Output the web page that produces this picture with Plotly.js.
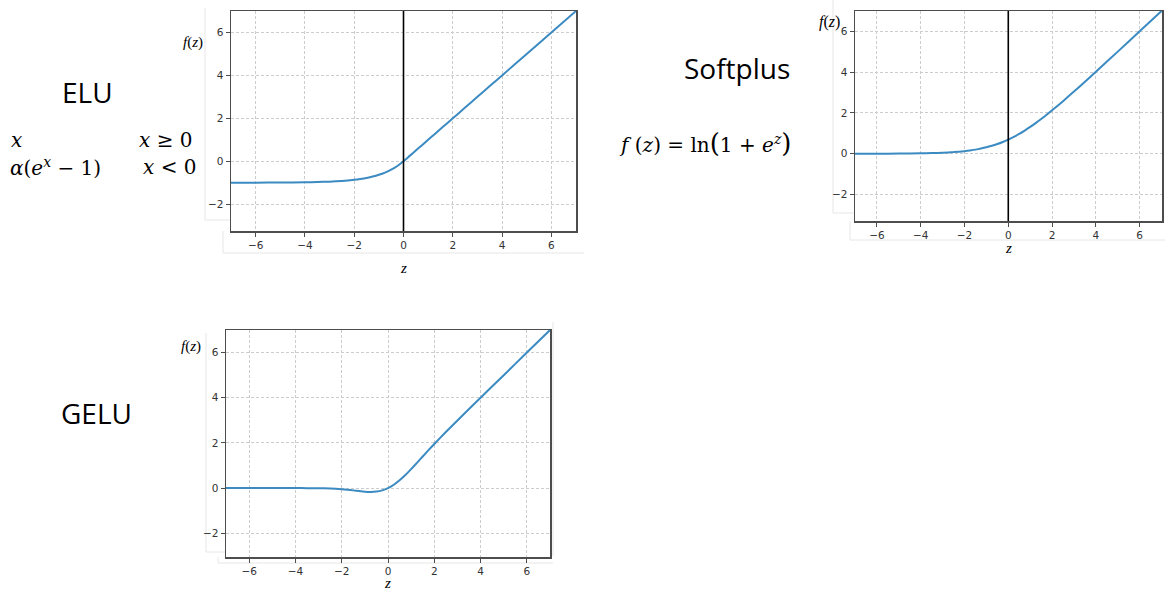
<!DOCTYPE html>
<html>
<head>
<meta charset="utf-8">
<script src="https://cdn.plot.ly/plotly-3.0.1.min.js"></script>
<style>html,body{margin:0;padding:0;background:#fff;}#chart{width:1173px;height:594px;}</style>
</head>
<body>
<div id="chart"></div>
<script>
// ---- data ----
const zValues = [-7,-6,-5,-4,-3.5,-3,-2.5,-2,-1.75,-1.5,-1.25,-1,-0.75,-0.5,-0.25,0,0.25,0.5,0.75,1,1.25,1.5,1.75,2,2.5,3,3.5,4,5,6,7];
const eluValues = [-0.999,-0.998,-0.993,-0.982,-0.970,-0.950,-0.918,-0.865,-0.826,-0.777,-0.714,-0.632,-0.528,-0.394,-0.221,0,0.25,0.5,0.75,1,1.25,1.5,1.75,2,2.5,3,3.5,4,5,6,7];
const softplusValues = [0.001,0.002,0.007,0.018,0.030,0.049,0.079,0.127,0.160,0.201,0.252,0.313,0.387,0.474,0.576,0.693,0.826,0.974,1.137,1.313,1.502,1.701,1.910,2.127,2.579,3.049,3.530,4.018,5.007,6.002,7.001];
const geluValues = [0,0,0,-0.0001,-0.0008,-0.004,-0.016,-0.046,-0.070,-0.100,-0.132,-0.159,-0.170,-0.154,-0.100,0,0.150,0.346,0.580,0.841,1.118,1.400,1.680,1.955,2.485,2.996,3.499,4.000,5,6,7];
const xTickVals = [-6,-4,-2,0,2,4,6];
const yTickVals = [-2,0,2,4,6];
const panelNames = ["ELU","Softplus","GELU"];

// ---- layout helpers ----
const W = 1173, H = 594;
const px = v => v / W;
const py = v => 1 - v / H;
const lineColor = '#3b8bc2';

function axisCommon(domain, range, anchor, ticks){
  return {domain: domain, range: range, anchor: anchor, tickmode:'array', tickvals: ticks,
    showline:true, mirror:true, linecolor:'#4d4d4d', linewidth:1.5,
    ticks:'outside', ticklen:4, tickwidth:1, tickcolor:'#4d4d4d',
    showgrid:true, gridcolor:'#cccccc', griddash:'3px,2px', gridwidth:1, zeroline:false,
    tickfont:{family:'DejaVu Sans', size:10.5, color:'#333'}, fixedrange:true};
}
const axisX = (d, r, a) => axisCommon(d, r, a, xTickVals);
const axisY = (d, r, a) => axisCommon(d, r, a, yTickVals);

const traces = [
  {x: zValues, y: eluValues, xaxis:'x', yaxis:'y', mode:'lines', line:{color:lineColor, width:2, shape:'spline', smoothing:0.5}, name: panelNames[0], hoverinfo:'skip'},
  {x: zValues, y: softplusValues, xaxis:'x2', yaxis:'y2', mode:'lines', line:{color:lineColor, width:2, shape:'spline', smoothing:0.5}, name: panelNames[1], hoverinfo:'skip'},
  {x: zValues, y: geluValues, xaxis:'x3', yaxis:'y3', mode:'lines', line:{color:lineColor, width:2, shape:'spline', smoothing:0.5}, name: panelNames[2], hoverinfo:'skip'}
];

const serif = 'DejaVu Serif';
const lserif = 'Liberation Serif';
const sans = 'Open Sans';
function ann(text, x, y, size, family, opts){
  return Object.assign({text:text, x:px(x), y:py(y), xref:'paper', yref:'paper', showarrow:false,
    xanchor:'center', yanchor:'middle', font:{family:family, size:size, color:'#000'}}, opts||{});
}

const annotations = [
  ann(panelNames[0], 87, 92, 28, sans),
  ann(panelNames[1], 737, 68, 28, sans),
  ann(panelNames[2], 96, 413, 28, sans),
  ann('<i>x</i>', 9, 140, 20, serif, {xanchor:'left'}),
  ann('<i>x</i> ≥ 0', 137, 140, 20, serif, {xanchor:'left'}),
  ann('<i>α</i>(<i>e</i><sup><i>x</i></sup> − 1)', 8, 167, 20, serif, {xanchor:'left'}),
  ann('<i>x</i> &lt; 0', 141, 167, 20, serif, {xanchor:'left'}),
  ann('<i>f</i> (<i>z</i>) = ln<span style="font-size:26px">(</span>1 + <i>e</i><sup><i>z</i></sup><span style="font-size:26px">)</span>', 617, 143, 20, serif, {xanchor:'left'}),
  ann('<i>f</i>(<i>z</i>)', 193, 42, 15, lserif),
  ann('<i>z</i>', 403, 268, 15, lserif),
  ann('<i>f</i>(<i>z</i>)', 829, 22, 16, lserif),
  ann('<i>z</i>', 1008, 248, 15, lserif),
  ann('<i>f</i>(<i>z</i>)', 191, 347, 15, lserif),
  ann('<i>z</i>', 387, 583, 15, lserif)
];

const faint = {color:'#e6e6e6', width:1};
function seg(x0,y0,x1,y1){ return {type:'line', xref:'paper', yref:'paper', x0:px(x0), y0:py(y0), x1:px(x1), y1:py(y1), line:faint, layer:'below'}; }

const shapes = [
  seg(205,8,205,220), seg(205,220,231,220), seg(223,253,584,253), seg(223,231,223,253),
  seg(833,0,833,213), seg(833,213,855,213), seg(850,240,1165,240), seg(850,221,850,240),
  seg(206,333,206,552), seg(206,552,226,552), seg(218,563,553,563), seg(218,557,218,563), seg(553,322,553,556),
  {type:'line', xref:'x', yref:'y domain', x0:0, x1:0, y0:0, y1:1, line:{color:'#000', width:1.6}},
  {type:'line', xref:'x2', yref:'y2 domain', x0:0, x1:0, y0:0, y1:1, line:{color:'#000', width:1.6}}
];

const layout = {
  width: W, height: H, margin:{l:0,r:0,t:0,b:0}, paper_bgcolor:'#fff', plot_bgcolor:'#fff',
  showlegend:false,
  xaxis: axisX([px(231), px(576)], [-7, 7], 'y'),
  yaxis: axisY([py(231), py(11)], [-3.25, 7.0], 'x'),
  xaxis2: axisX([px(855), px(1162)], [-7, 7.02], 'y2'),
  yaxis2: axisY([py(221), py(11)], [-3.3, 7.0], 'x2'),
  xaxis3: axisX([px(226), px(550)], [-7, 7], 'y3'),
  yaxis3: axisY([py(557), py(330)], [-3.05, 7.0], 'x3'),
  annotations: annotations,
  shapes: shapes
};

Plotly.newPlot('chart', traces, layout, {staticPlot:true, displayModeBar:false});
</script>
</body>
</html>
